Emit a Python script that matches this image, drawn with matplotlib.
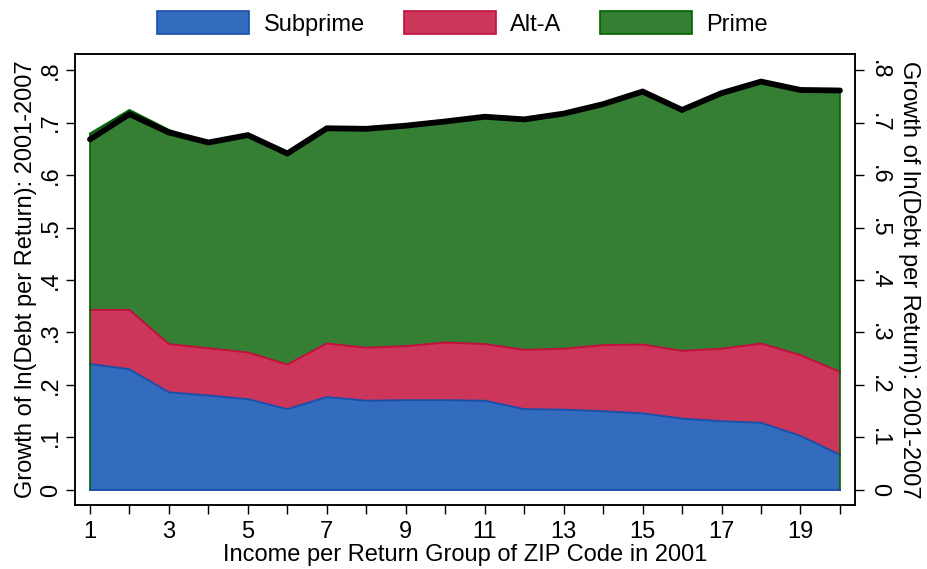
import matplotlib
matplotlib.use("Agg")
import matplotlib.pyplot as plt
from matplotlib.patches import Patch
import numpy as np

plt.rcParams['font.family'] = ['Liberation Sans', 'DejaVu Sans']

groups = list(range(1, 21))
subprime = [0.240, 0.230, 0.186, 0.180, 0.173, 0.154, 0.177, 0.170, 0.171, 0.171,
            0.170, 0.154, 0.153, 0.150, 0.146, 0.136, 0.131, 0.128, 0.103, 0.067]
alt_a = [0.103, 0.113, 0.092, 0.090, 0.089, 0.085, 0.102, 0.101, 0.103, 0.110,
         0.108, 0.113, 0.116, 0.126, 0.131, 0.129, 0.138, 0.151, 0.154, 0.158]
prime = [0.336, 0.381, 0.408, 0.392, 0.414, 0.402, 0.410, 0.417, 0.420, 0.421,
         0.433, 0.439, 0.448, 0.459, 0.482, 0.459, 0.487, 0.499, 0.505, 0.536]
total = [0.668, 0.716, 0.681, 0.662, 0.676, 0.641, 0.689, 0.688, 0.694, 0.702,
         0.711, 0.706, 0.717, 0.735, 0.759, 0.724, 0.756, 0.778, 0.762, 0.761]
series_names = ["Subprime", "Alt-A", "Prime"]
y_ticks = [0, 0.1, 0.2, 0.3, 0.4, 0.5, 0.6, 0.7, 0.8]
y_tick_labels = ["0", ".1", ".2", ".3", ".4", ".5", ".6", ".7", ".8"]
x_ticks = list(range(1, 21))
x_tick_labels = [str(v) if v % 2 == 1 else "" for v in x_ticks]
ylabel = "Growth of ln(Debt per Return): 2001-2007"
xlabel = "Income per Return Group of ZIP Code in 2001"

fills = ["#336CBC", "#CC365A", "#357F34"]
edges = ["#1A4FAA", "#C0103C", "#006400"]

fig = plt.figure(figsize=(9.27, 5.69), dpi=100)
ax = fig.add_axes([0.0809, 0.1125, 0.8414, 0.7921])

x = np.array(groups, dtype=float)
base = np.zeros_like(x)
for vals, fc, ec in zip([subprime, alt_a, prime], fills, edges):
    top = base + np.array(vals)
    ax.fill_between(x, base, top, facecolor=fc, edgecolor='none', zorder=2)
    ax.plot(x, top, color=ec, lw=1.4, zorder=3)
    base = top
# outline verticals and baseline of the stack
ax.plot([x[0], x[0]], [0, base[0]], color=edges[2], lw=1.2, zorder=3)
ax.plot([x[-1], x[-1]], [0, base[-1]], color=edges[2], lw=1.2, zorder=3)
ax.plot(x, np.zeros_like(x), color=edges[0], lw=1.4, zorder=3)
ax.plot(x, total, color='black', lw=4.2, zorder=4, solid_capstyle='round', solid_joinstyle='miter')

ax.set_xlim(0.62, 20.38)
ax.set_ylim(-0.0286, 0.830)
ax.set_xticks(x_ticks)
ax.set_xticklabels(x_tick_labels)
ax.set_yticks(y_ticks)
ax.set_yticklabels(y_tick_labels)

for sp in ax.spines.values():
    sp.set_linewidth(1.1)
ax.tick_params(axis='both', direction='out', length=6.5, width=1.0, labelsize=17, pad=3)
ax.tick_params(axis='x', pad=5)
for lab in ax.get_yticklabels():
    lab.set_rotation(90)
    lab.set_va('center')
ax.set_xlabel(xlabel, fontsize=17, labelpad=1)
ax.set_ylabel(ylabel, fontsize=17, labelpad=2)

ax2 = ax.twinx()
ax2.set_ylim(ax.get_ylim())
ax2.set_yticks(y_ticks)
ax2.set_yticklabels(y_tick_labels)
ax2.tick_params(axis='y', direction='out', length=6.5, width=1.0, labelsize=17, pad=3)
for lab in ax2.get_yticklabels():
    lab.set_rotation(-90)
    lab.set_va('center')
for sp in ax2.spines.values():
    sp.set_linewidth(1.1)
ax2.set_ylabel(ylabel, fontsize=17, rotation=-90, va='bottom', labelpad=5.5)

handles = [Patch(facecolor=fc, edgecolor=ec, linewidth=1.2) for fc, ec in zip(fills, edges)]
fig.legend(handles, series_names, loc='center', bbox_to_anchor=(0.499, 0.9587), ncol=3,
           frameon=False, fontsize=17, handlelength=3.9, handleheight=1.1,
           handletextpad=0.6, columnspacing=1.65, borderpad=0.1)

fig.savefig("out.png", dpi=100)
